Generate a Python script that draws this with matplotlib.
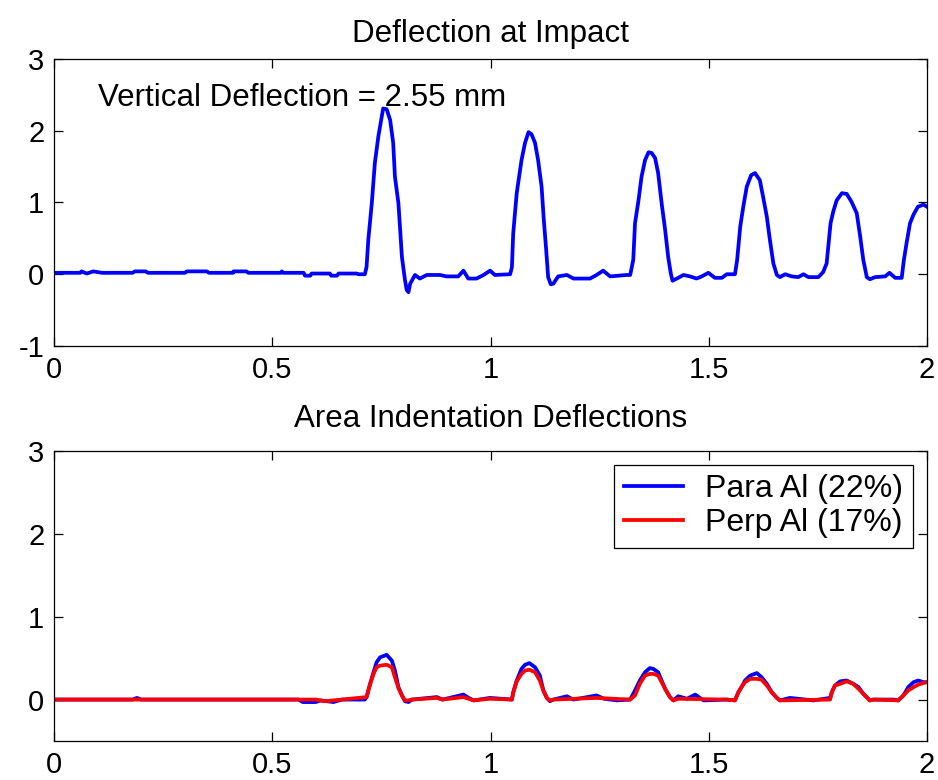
import matplotlib as mpl
mpl.use('Agg')
from matplotlib import pyplot as plt
import numpy as np


# impact deflection trace (mm) vs time (s)
impact_t = [0.000, 0.060, 0.063, 0.075, 0.090, 0.110, 0.180, 0.185, 0.210, 0.215,
            0.300, 0.304, 0.350, 0.355, 0.410, 0.411, 0.441, 0.445, 0.520, 0.522,
            0.525, 0.572, 0.575, 0.587, 0.590, 0.632, 0.635, 0.648, 0.652, 0.693,
            0.698, 0.712, 0.716, 0.720, 0.728, 0.735, 0.743, 0.751, 0.754, 0.762,
            0.770, 0.777, 0.781, 0.789, 0.793, 0.797, 0.804, 0.808, 0.812, 0.816,
            0.827, 0.838, 0.854, 0.884, 0.899, 0.926, 0.938, 0.949, 0.968, 0.984,
            0.999, 1.010, 1.045, 1.049, 1.052, 1.060, 1.071, 1.079, 1.087, 1.094,
            1.102, 1.109, 1.117, 1.122, 1.127, 1.132, 1.138, 1.144, 1.155, 1.175,
            1.190, 1.228, 1.243, 1.258, 1.274, 1.312, 1.320, 1.327, 1.331, 1.339,
            1.346, 1.354, 1.362, 1.369, 1.377, 1.384, 1.392, 1.400, 1.407, 1.413,
            1.417, 1.430, 1.442, 1.457, 1.472, 1.484, 1.499, 1.514, 1.530, 1.541,
            1.560, 1.565, 1.572, 1.579, 1.587, 1.597, 1.606, 1.617, 1.626, 1.633,
            1.640, 1.648, 1.656, 1.663, 1.675, 1.690, 1.705, 1.717, 1.728, 1.751,
            1.762, 1.770, 1.779, 1.785, 1.793, 1.805, 1.816, 1.827, 1.839, 1.847,
            1.854, 1.862, 1.869, 1.881, 1.904, 1.914, 1.927, 1.942, 1.947, 1.953,
            1.961, 1.969, 1.979, 1.992, 2.000]
impact_d = [0.02, 0.02, 0.04, 0.01, 0.04, 0.02, 0.02, 0.04, 0.04, 0.02,
            0.02, 0.04, 0.04, 0.02, 0.02, 0.04, 0.04, 0.02, 0.02, 0.04,
            0.02, 0.02, -0.02, -0.02, 0.01, 0.01, -0.02, -0.02, 0.01, 0.01,
            0.00, 0.00, 0.10, 0.48, 0.99, 1.55, 1.92, 2.20, 2.31, 2.30,
            2.15, 1.83, 1.36, 0.99, 0.62, 0.24, -0.08, -0.22, -0.25, -0.13,
            -0.01, -0.06, -0.01, -0.01, -0.03, -0.03, 0.05, -0.06, -0.06, -0.01,
            0.05, -0.01, 0.00, 0.10, 0.57, 1.13, 1.59, 1.83, 1.98, 1.95,
            1.83, 1.59, 1.22, 0.76, 0.38, -0.04, -0.14, -0.13, -0.03, -0.01,
            -0.06, -0.06, -0.01, 0.05, -0.03, -0.01, -0.01, 0.20, 0.71, 1.03,
            1.36, 1.59, 1.70, 1.69, 1.62, 1.41, 0.99, 0.62, 0.24, 0.01,
            -0.09, -0.05, -0.01, -0.03, -0.06, -0.03, 0.02, -0.05, -0.05, 0.00,
            0.00, 0.20, 0.66, 0.94, 1.22, 1.38, 1.41, 1.31, 1.03, 0.80,
            0.48, 0.15, -0.01, -0.04, 0.00, -0.03, -0.04, 0.00, -0.04, -0.04,
            0.03, 0.15, 0.71, 0.87, 1.03, 1.13, 1.12, 1.01, 0.85, 0.52,
            0.20, -0.04, -0.07, -0.04, -0.03, 0.02, -0.05, -0.05, 0.20, 0.43,
            0.71, 0.83, 0.94, 0.97, 0.94]

# area indentation, parallel aluminium
para_t = [0.000, 0.180, 0.190, 0.200, 0.560, 0.570, 0.600, 0.610, 0.640, 0.660,
          0.712, 0.716, 0.724, 0.732, 0.739, 0.747, 0.762, 0.774, 0.781, 0.789,
          0.797, 0.804, 0.812, 0.820, 0.877, 0.890, 0.938, 0.950, 0.961, 0.999,
          1.049, 1.052, 1.060, 1.071, 1.079, 1.089, 1.102, 1.113, 1.121, 1.129,
          1.136, 1.144, 1.175, 1.190, 1.243, 1.260, 1.289, 1.320, 1.331, 1.342,
          1.354, 1.365, 1.373, 1.384, 1.392, 1.400, 1.411, 1.419, 1.430, 1.450,
          1.469, 1.488, 1.541, 1.560, 1.568, 1.575, 1.583, 1.595, 1.610, 1.621,
          1.633, 1.644, 1.656, 1.663, 1.686, 1.740, 1.778, 1.782, 1.789, 1.801,
          1.816, 1.831, 1.843, 1.854, 1.869, 1.877, 1.923, 1.934, 1.946, 1.957,
          1.969, 1.980, 1.992, 2.000]
para_d = [0.00, 0.00, 0.02, 0.00, 0.00, -0.03, -0.03, -0.01, -0.03, 0.00,
          0.00, 0.03, 0.19, 0.33, 0.45, 0.51, 0.54, 0.47, 0.35, 0.15,
          0.05, -0.02, -0.03, 0.00, 0.03, 0.00, 0.06, 0.02, -0.01, 0.02,
          0.00, 0.09, 0.23, 0.37, 0.42, 0.44, 0.39, 0.29, 0.11, 0.02,
          -0.02, 0.00, 0.04, 0.00, 0.05, 0.01, -0.01, 0.00, 0.11, 0.23,
          0.33, 0.38, 0.37, 0.33, 0.23, 0.13, 0.03, -0.01, 0.04, 0.01,
          0.06, -0.01, 0.00, -0.01, 0.09, 0.15, 0.23, 0.29, 0.32, 0.27,
          0.19, 0.09, 0.02, -0.01, 0.02, -0.01, 0.02, 0.09, 0.17, 0.22,
          0.23, 0.19, 0.15, 0.07, -0.01, 0.00, 0.00, -0.01, 0.05, 0.15,
          0.21, 0.23, 0.21, 0.21]

# area indentation, perpendicular aluminium
perp_t = [0.000, 0.600, 0.620, 0.660, 0.716, 0.724, 0.732, 0.739, 0.747, 0.762,
          0.774, 0.781, 0.789, 0.797, 0.804, 0.812, 0.820, 0.877, 0.890, 0.938,
          0.961, 0.999, 1.049, 1.052, 1.060, 1.071, 1.079, 1.089, 1.102, 1.113,
          1.121, 1.129, 1.136, 1.144, 1.243, 1.320, 1.331, 1.342, 1.354, 1.365,
          1.373, 1.384, 1.392, 1.400, 1.411, 1.419, 1.430, 1.541, 1.560, 1.568,
          1.575, 1.583, 1.595, 1.610, 1.621, 1.633, 1.644, 1.656, 1.663, 1.778,
          1.782, 1.789, 1.801, 1.816, 1.831, 1.843, 1.854, 1.869, 1.877, 1.934,
          1.946, 1.957, 1.969, 1.980, 1.992, 2.000]
perp_d = [0.00, 0.00, -0.02, 0.00, 0.03, 0.18, 0.31, 0.39, 0.41, 0.42,
          0.39, 0.27, 0.14, 0.05, -0.01, -0.01, 0.00, 0.02, 0.00, 0.03,
          -0.01, 0.01, 0.00, 0.08, 0.22, 0.31, 0.35, 0.36, 0.33, 0.23,
          0.11, 0.02, -0.01, 0.00, 0.02, 0.00, 0.05, 0.19, 0.29, 0.31,
          0.31, 0.29, 0.21, 0.13, 0.03, -0.01, 0.01, 0.00, -0.01, 0.09,
          0.15, 0.21, 0.25, 0.25, 0.24, 0.17, 0.09, 0.02, -0.01, 0.00,
          0.09, 0.17, 0.19, 0.22, 0.19, 0.13, 0.07, -0.01, 0.00, -0.01,
          0.05, 0.11, 0.15, 0.18, 0.20, 0.21]

max_deflection = 2.55
x_ticks = [0, 0.5, 1, 1.5, 2]
x_labels = ['0', '0.5', '1', '1.5', '2']


mpl.rcParams.update({
    'font.family': ['Liberation Sans', 'DejaVu Sans'],
    'font.size': 21,
    'axes.linewidth': 0.9,
    'xtick.direction': 'in',
    'ytick.direction': 'in',
    'xtick.top': True,
    'ytick.right': True,
    'xtick.major.size': 6.5,
    'ytick.major.size': 6.5,
    'xtick.major.width': 0.9,
    'ytick.major.width': 0.9,
    'xtick.major.pad': 7,
    'ytick.major.pad': 7,
})

fig = plt.figure(figsize=(9.38, 7.8), dpi=100, facecolor='w')
ax1 = fig.add_axes([0.0576, 0.5564, 0.9307, 0.368])
ax2 = fig.add_axes([0.0576, 0.05, 0.9307, 0.3718])

ax1.plot(impact_t, impact_d, '-', color='#0000ff', lw=2.7)
ax1.set_xlim(0, 2)
ax1.set_ylim(-1, 3)
ax1.set_yticks([-1, 0, 1, 2, 3])
ax1.set_yticklabels(['-1', '0', '1', '2', '3'])
ax1.set_xticks(x_ticks)
ax1.set_xticklabels(x_labels)
ax1.set_title('Deflection at Impact', fontsize=22.5, pad=12)
ax1.text(0.1, 2.34, 'Vertical Deflection = %.2f mm' % max_deflection,
         va='baseline', fontsize=22.5)

ax2.plot(para_t, para_d, '-', color='#0000ff', lw=2.7, label='Para Al (22%)')
ax2.plot(perp_t, perp_d, '-', color='#ff0000', lw=2.7, label='Perp Al (17%)')
ax2.set_xlim(0, 2)
ax2.set_ylim(-0.5, 3)
ax2.set_yticks([0, 1, 2, 3])
ax2.set_xticks(x_ticks)
ax2.set_xticklabels(x_labels)
ax2.set_title('Area Indentation Deflections', fontsize=22.5, pad=17)
leg = ax2.legend(loc='upper right', bbox_to_anchor=(0.984, 0.952), borderaxespad=0,
                 fancybox=False, framealpha=1, edgecolor='k', fontsize=23,
                 handlelength=1.85, handletextpad=0.7, labelspacing=0.12,
                 borderpad=0.3)
leg.get_frame().set_linewidth(0.9)

plt.savefig('out.png', dpi=100, facecolor='w')
